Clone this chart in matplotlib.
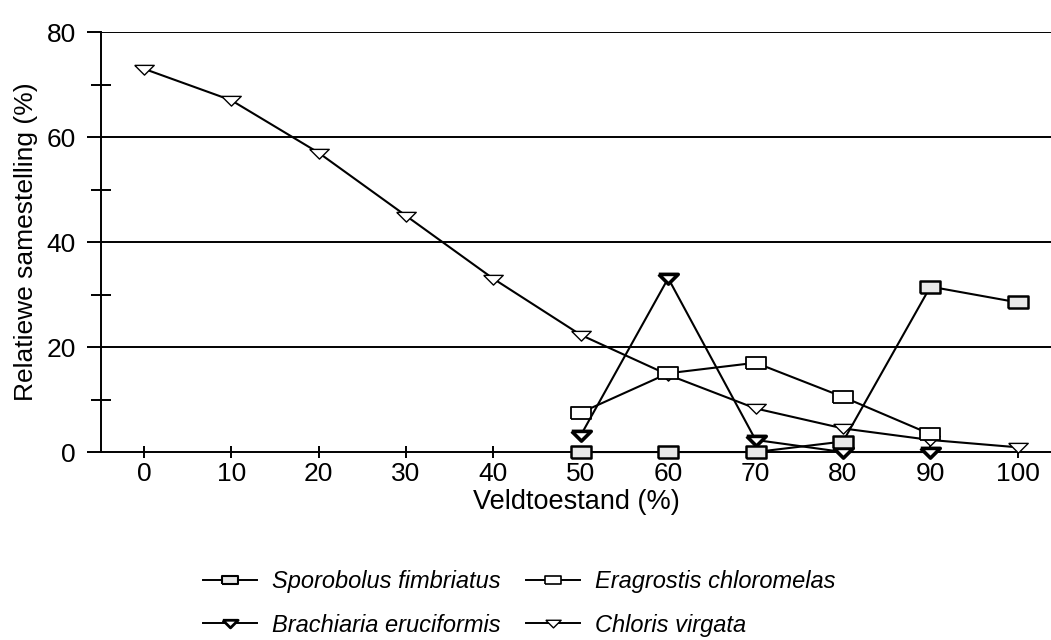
import numpy as np
import matplotlib.pyplot as plt
from matplotlib.lines import Line2D

plt.rcParams['font.family'] = ['Liberation Sans', 'DejaVu Sans']

# Data
x_all = [0, 10, 20, 30, 40, 50, 60, 70, 80, 90, 100]
chloris = [73, 67, 57, 45, 33, 22.3, 14.7, 8.3, 4.5, 2.3, 0.9]

x_brach = [50, 60, 70, 80, 90]
brachiaria = [3.2, 33.1, 2.3, 0, 0]

x_sporo = [50, 60, 70, 80, 90, 100]
sporobolus = [0, 0, 0, 2, 31.5, 28.5]

x_erag = [50, 60, 70, 80, 90]
eragrostis = [7.5, 15, 17, 10.5, 3.4]

labels = ["Sporobolus fimbriatus", "Brachiaria eruciformis",
          "Eragrostis chloromelas", "Chloris virgata"]

# rectangular marker (wider than tall) and flat down-triangle
rect = [(-1.4, -0.8), (1.4, -0.8), (1.4, 0.8), (-1.4, 0.8), (-1.4, -0.8)]
tri = [(-1.3, 0.55), (1.3, 0.55), (0, -0.75), (-1.3, 0.55)]

fig = plt.figure(figsize=(10.51, 6.40), dpi=100)
ax = fig.add_axes([0.0961, 0.2937, 0.9039, 0.6563])

lw = 1.5
ax.plot(x_all, chloris, color='black', lw=lw, marker=tri, ms=14,
        mfc='white', mec='black', mew=1.0, clip_on=False, zorder=3)
ax.plot(x_erag, eragrostis, color='black', lw=lw, marker=rect, ms=14,
        mfc='white', mec='black', mew=1.3, clip_on=False, zorder=4)
ax.plot(x_brach, brachiaria, color='black', lw=lw, marker=tri, ms=14,
        mfc='white', mec='black', mew=2.6, clip_on=False, zorder=5)
ax.plot(x_sporo, sporobolus, color='black', lw=lw, marker=rect, ms=14,
        mfc='#e8e8e8', mec='black', mew=1.8, clip_on=False, zorder=6)

ax.set_xlim(-4.9, 103.8)
ax.set_ylim(0, 80)

for v in [20, 40, 60, 80]:
    ax.axhline(v, color='black', lw=1.4, zorder=1)

for s in ['top', 'right']:
    ax.spines[s].set_visible(False)
ax.spines['left'].set_linewidth(1.4)
ax.spines['bottom'].set_linewidth(1.4)

ax.set_xticks(x_all)
ax.set_yticks([0, 20, 40, 60, 80])
ax.set_yticks([10, 30, 50, 70], minor=True)
ax.tick_params(axis='x', direction='inout', length=8.6, width=1.4,
               labelsize=19, pad=3)
ax.tick_params(axis='y', which='major', direction='out', length=10,
               width=1.4, labelsize=19, pad=8)
ax.tick_params(axis='y', which='minor', direction='inout', length=14,
               width=1.4)

ax.set_xlabel("Veldtoestand (%)", fontsize=19.5, labelpad=2)
ax.set_ylabel("Relatiewe samestelling (%)", fontsize=19, labelpad=6)

handles = [
    Line2D([], [], color='black', lw=1.4, marker=rect, ms=11,
           mfc='#e8e8e8', mec='black', mew=1.5),
    Line2D([], [], color='black', lw=1.4, marker=tri, ms=11,
           mfc='white', mec='black', mew=2.0),
    Line2D([], [], color='black', lw=1.4, marker=rect, ms=11,
           mfc='white', mec='black', mew=1.2),
    Line2D([], [], color='black', lw=1.4, marker=tri, ms=11,
           mfc='white', mec='black', mew=1.0),
]
fig.legend(handles, labels, ncol=2, loc='center', bbox_to_anchor=(0.494, 0.057),
           frameon=False, prop={'style': 'italic', 'size': 17},
           handlelength=2.3, handletextpad=0.64, columnspacing=1.05,
           labelspacing=0.85, borderpad=0, borderaxespad=0)

fig.savefig("out.png", dpi=100)
